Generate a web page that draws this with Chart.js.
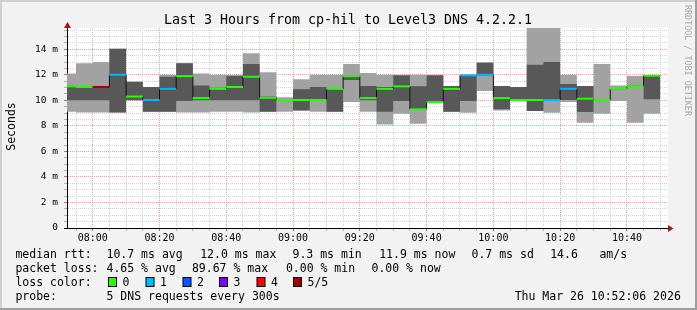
<!DOCTYPE html>
<html><head><meta charset="utf-8">
<script src="https://cdn.jsdelivr.net/npm/chart.js@4.4.1/dist/chart.umd.min.js"></script>
<style>html,body{margin:0;padding:0;background:#f2f2f2;overflow:hidden}canvas{display:block}</style>
</head><body>
<canvas id="c" width="697" height="310"></canvas>
<script>
// ---- data ----
const rangeStart = '07:52:18';
const rangeEnd = '10:52:18';
const binStarts = ['07:50','07:55','08:00','08:05','08:10','08:15','08:20','08:25','08:30','08:35','08:40','08:45',
  '08:50','08:55','09:00','09:05','09:10','09:15','09:20','09:25','09:30','09:35','09:40','09:45',
  '09:50','09:55','10:00','10:05','10:10','10:15','10:20','10:25','10:30','10:35','10:40','10:45'];
const binEnd = '10:50';
// five pings per bin, sorted: min, 2nd, median, 4th, max (ms)
const pingMin  = [9.1,9.05,9.05,9.05,10.0,9.1,9.1,9.05,9.05,9.1,9.1,9.05,9.1,9.1,9.2,9.1,9.1,9.87,9.1,8.1,8.96,8.17,9.87,9.1,9.03,10.73,9.2,10.0,9.16,9.03,9.87,8.25,8.96,9.95,8.25,8.96];
const pingLow  = [10.0,10.0,10.0,9.05,10.0,9.1,9.1,9.95,10.0,10.0,10.0,10.0,9.1,10.0,9.2,10.0,9.1,11.6,10.0,9.1,9.95,9.3,9.87,9.1,9.95,12.0,9.3,10.0,9.16,10.03,10.03,9.09,10.03,10.91,11.1,10.08];
const medianRtt = [11.1,11.05,11.05,12.0,10.3,10.03,10.9,11.9,10.18,10.9,11.05,11.85,10.2,10.03,10.03,10.03,10.9,11.9,10.18,10.9,11.1,9.3,9.87,10.9,11.96,12.0,10.18,10.03,10.03,10.03,10.91,10.13,10.03,10.91,11.1,11.93];
const pingHigh = [11.1,11.05,11.05,14.05,11.45,11.04,11.85,12.9,11.17,10.99,11.9,12.85,10.3,10.03,10.88,11.05,10.97,11.9,11.12,11.04,11.96,11.1,11.96,11.12,11.96,12.92,11.12,11.04,12.79,13.0,11.28,11.12,10.03,10.91,11.1,11.96];
const pingMax  = [12.1,12.9,13.0,14.05,11.45,11.04,12.0,12.9,12.1,12.0,12.0,13.7,12.2,10.25,11.65,12.0,12.0,12.85,12.15,12.0,11.96,12.0,11.96,11.12,11.96,13.0,11.12,11.04,15.67,15.67,12.0,11.12,12.85,11.17,11.9,11.96];
const lossLevel = [0,0,5,1,0,1,1,0,0,0,0,0,0,0,0,0,0,0,0,0,0,0,0,0,1,1,0,0,0,1,1,0,0,0,0,0];
const lossColors = ['#26ff00','#00b8ff','#0059ff','#7e00ff','#ff0000','#a00000'];
const lossLabels = ['0','1','2','3','4','5/5'];
const xTickLabels = ['08:00','08:20','08:40','09:00','09:20','09:40','10:00','10:20','10:40'];
const yMajor = [0,2,4,6,8,10,12,14];
const yTickLabels = ['0','2 m','4 m','6 m','8 m','10 m','12 m','14 m'];
const titleText = 'Last 3 Hours from cp-hil to Level3 DNS 4.2.2.1';
const legendRtt = ['median rtt:','10.7 ms avg','12.0 ms max','9.3 ms min','11.9 ms now','0.7 ms sd','14.6','am/s'];
const legendLoss = ['packet loss:','4.65 % avg','89.67 % max','0.00 % min','0.00 % now'];
const probeText = ['probe:','5 DNS requests every 300s'];
const stampText = 'Thu Mar 26 10:52:06 2026';

// ---- helpers ----
const toMin = s => { const p = s.split(':').map(Number); return p[0]*60 + p[1] + (p[2]||0)/60; };
const fmt = v => { const m = Math.round(v); return String(Math.floor(m/60)).padStart(2,'0')+':'+String(m%60).padStart(2,'0'); };
const edges = binStarts.map(toMin).concat([toMin(binEnd)]);
const stepData = arr => edges.map((x,i) => ({x, y: arr[Math.min(i, arr.length-1)]}));
const segData = [];
medianRtt.forEach((m,i) => { segData.push({x: edges[i], y: m}, {x: edges[i+1], y: m}, {x: edges[i+1], y: null}); });
const gridTimes = edges.filter(t => t > toMin(rangeStart) && t < toMin(rangeEnd));
const yGrid = []; for (let k = 0; k * 0.5 < Math.max(...pingMax); k++) yGrid.push(k * 0.5);

const GRID = '#d2d2d2', MGRID = '#f0a0a0';
const MONO = "'DejaVu Sans Mono', monospace";
const LIGHT = '#a2a2a2', DARK = '#585858';

const fillLine = (arr, color, fill, order) => ({
  data: stepData(arr), stepped: true, borderWidth: 0, borderColor: 'rgba(0,0,0,0)',
  backgroundColor: color, fill, pointRadius: 0, order
});

const rrdPlugin = {
  id: 'rrd',
  beforeDraw(chart) {
    const {ctx, chartArea: a} = chart;
    ctx.save();
    ctx.fillStyle = '#f2f2f2'; ctx.fillRect(0, 0, chart.width, chart.height);
    ctx.fillStyle = '#ffffff'; ctx.fillRect(a.left, a.top, a.right - a.left, a.bottom - a.top);
    ctx.restore();
  },
  afterDraw(chart) {
    const {ctx, chartArea: a} = chart;
    ctx.save();
    // arrows
    ctx.fillStyle = '#a01818';
    ctx.beginPath(); ctx.moveTo(a.right, a.bottom - 3); ctx.lineTo(a.right + 5.5, a.bottom + 0.5); ctx.lineTo(a.right, a.bottom + 4); ctx.closePath(); ctx.fill();
    ctx.beginPath(); ctx.moveTo(a.left - 3, a.top); ctx.lineTo(a.left + 0.5, a.top - 6); ctx.lineTo(a.left + 4, a.top); ctx.closePath(); ctx.fill();
    // title
    ctx.fillStyle = '#000';
    ctx.font = '13.3px ' + MONO; ctx.textAlign = 'center'; ctx.textBaseline = 'alphabetic';
    ctx.fillText(titleText, 348, 24);
    // y title
    ctx.save(); ctx.translate(15.3, 126.5); ctx.rotate(-Math.PI/2);
    ctx.font = '11.5px ' + MONO; ctx.textAlign = 'center'; ctx.fillText('Seconds', 0, 0); ctx.restore();
    // watermark
    ctx.save(); ctx.translate(685, 5); ctx.rotate(Math.PI/2);
    ctx.fillStyle = '#a8a8a8'; ctx.font = '8.4px ' + MONO; ctx.textAlign = 'left';
    ctx.fillText('RRDTOOL / TOBI OETIKER', 0, 0); ctx.restore();
    // legend
    ctx.font = '11.5px ' + MONO; ctx.textAlign = 'left'; ctx.fillStyle = '#000';
    const r1x = [15.4, 106.5, 200.2, 292.5, 379.2, 471.5, 550.2, 599.4];
    legendRtt.forEach((t,i) => ctx.fillText(t, r1x[i], 258));
    const r2x = [15.4, 106.5, 191.9, 285.9, 371.5];
    legendLoss.forEach((t,i) => ctx.fillText(t, r2x[i], 272));
    ctx.fillText('loss color:', 15.4, 286);
    const bx = [108, 145.5, 182.5, 219, 256.5, 293];
    lossLabels.forEach((t,i) => {
      ctx.fillStyle = '#000'; ctx.fillRect(bx[i], 277, 9, 10);
      ctx.fillStyle = lossColors[i]; ctx.fillRect(bx[i] + 1, 278, 7, 8);
      ctx.fillStyle = '#000'; ctx.fillText(t, bx[i] + 14.5, 286);
    });
    ctx.fillText(probeText[0], 15.4, 299.5);
    ctx.fillText(probeText[1], 106.5, 299.5);
    ctx.textAlign = 'right'; ctx.fillText(stampText, 680.8, 299.5);
    // frame
    ctx.fillStyle = '#cfcfcf'; ctx.fillRect(0, 0, chart.width, 2); ctx.fillRect(0, 0, 2, chart.height);
    ctx.fillStyle = '#9e9e9e'; ctx.fillRect(0, chart.height - 2, chart.width, 2); ctx.fillRect(chart.width - 2, 0, 2, chart.height);
    ctx.restore();
  }
};

new Chart(document.getElementById('c'), {
  type: 'line',
  data: { datasets: [
    fillLine(pingMin, LIGHT, false, 5),
    fillLine(pingMax, LIGHT, '-1', 4),
    fillLine(pingLow, DARK, false, 3),
    fillLine(pingHigh, DARK, '-1', 2),
    { data: stepData(medianRtt), stepped: true, borderWidth: 1, borderColor: '#101010', fill: false, pointRadius: 0, order: 1 },
    { data: segData, borderWidth: 2, borderColor: lossColors[0], fill: false, pointRadius: 0, spanGaps: false, order: 0,
      segment: { borderColor: c => lossColors[lossLevel[Math.floor(c.p0DataIndex / 3)]] } }
  ]},
  options: {
    responsive: false, animation: false, events: [],
    layout: { padding: { left: 0, top: 28, right: 29, bottom: 0 } },
    plugins: { legend: { display: false }, tooltip: { enabled: false }, title: { display: false } },
    scales: {
      x: {
        type: 'linear', min: toMin(rangeStart), max: toMin(rangeEnd),
        afterBuildTicks: s => { s.ticks = gridTimes.map(v => ({value: v})); },
        afterFit: s => { s.height = 82; },
        ticks: { autoSkip: false, maxRotation: 0, minRotation: 0, padding: 1, color: '#000',
          font: { family: MONO, size: 10 },
          callback: v => xTickLabels.includes(fmt(v)) ? fmt(v) : '' },
        grid: { lineWidth: 1, tickLength: 3,
          color: c => xTickLabels.includes(fmt(c.tick.value)) ? MGRID : GRID,
          tickColor: c => xTickLabels.includes(fmt(c.tick.value)) ? '#e06060' : '#b0b0b0' },
        border: { display: true, color: '#000', width: 1, dash: [1, 1] }
      },
      y: {
        type: 'linear', min: 0, max: Math.max(...pingMax),
        afterBuildTicks: s => { s.ticks = yGrid.map(v => ({value: v})); },
        afterFit: s => { s.width = 67; },
        ticks: { autoSkip: false, padding: 6, color: '#000', font: { family: MONO, size: 9.5 },
          callback: v => { const k = yMajor.indexOf(v); return k >= 0 ? yTickLabels[k] : ''; } },
        grid: { lineWidth: 1, tickLength: 3,
          color: c => yMajor.includes(c.tick.value) ? MGRID : GRID,
          tickColor: c => c.tick.value === 0 ? '#000' : (yMajor.includes(c.tick.value) ? '#e06060' : '#b0b0b0') },
        border: { display: true, color: '#000', width: 1, dash: [1, 1] }
      }
    }
  },
  plugins: [rrdPlugin]
});
</script>
</body></html>
